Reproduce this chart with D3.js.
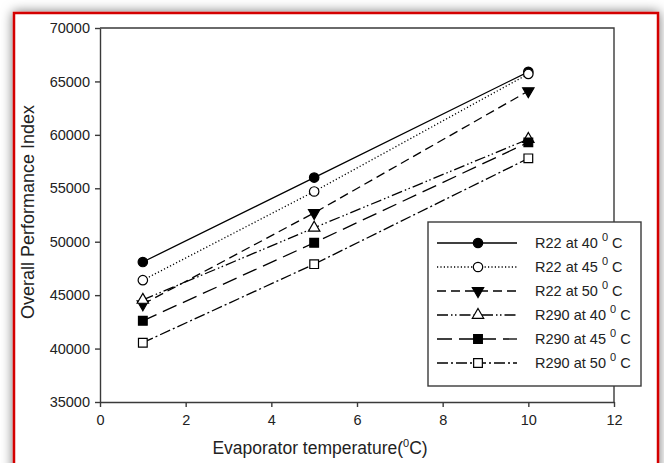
<!DOCTYPE html>
<html>
<head>
<meta charset="utf-8">
<script src="https://cdn.jsdelivr.net/npm/d3@7"></script>
<style>
  html, body { margin: 0; padding: 0; background: #fff; }
  #chart { width: 664px; height: 463px; }
  text { font-family: "Liberation Sans", Arial, sans-serif; }
</style>
</head>
<body>
<div id="chart"></div>
<script>
var temps = [1, 5, 10];
var r22at40 = [48100, 56000, 65900];
var r22at45 = [46400, 54700, 65700];
var r22at50 = [44150, 52700, 64100];
var r290at40 = [44550, 51300, 59600];
var r290at45 = [42600, 49900, 59300];
var r290at50 = [40550, 47900, 57800];
var seriesNames = ["R22 at 40", "R22 at 45", "R22 at 50", "R290 at 40", "R290 at 45", "R290 at 50"];
var xTicks = [0, 2, 4, 6, 8, 10, 12];
var yTicks = [35000, 40000, 45000, 50000, 55000, 60000, 65000, 70000];

function PerformanceChart(element, width, height) {
  var _chart = {};

  var _margins = {top: 28, right: 50, bottom: 61, left: 100},
    _width = width || 664,
    _height = height || 463,
    _svg,
    _bodyG,
    _x, _y,
    _series = [];

  // marker + dash style per series, same order as seriesNames
  var _styles = [
    {dash: null,                 symbol: d3.symbolCircle,   fill: "#000", rotate: 0,   size: 70},
    {dash: "1.2,2.2",            symbol: d3.symbolCircle,   fill: "#fff", rotate: 0,   size: 70},
    {dash: "9,5",                symbol: d3.symbolTriangle, fill: "#000", rotate: 180, size: 56},
    {dash: "11,3,1.5,2.5,1.5,3", symbol: d3.symbolTriangle, fill: "#fff", rotate: 0,   size: 56},
    {dash: "15,7",               symbol: d3.symbolSquare,   fill: "#000", rotate: 0,   size: 76},
    {dash: "11,3,2,3",           symbol: d3.symbolSquare,   fill: "#fff", rotate: 0,   size: 76}
  ];

  _chart.render = function() {
    _svg = d3.select(element).append("svg")
      .attr("width", _width)
      .attr("height", _height);

    renderFrame(_svg);

    _x = d3.scaleLinear().domain([0, 12]).range([xStart(), xEnd()]);
    _y = d3.scaleLinear().domain([35000, 70000]).range([yStart(), yEnd()]);

    renderAxes(_svg);
    renderBody(_svg);
    renderLegend(_svg);
    return _chart;
  };

  _chart.series = function(s) {
    if (!arguments.length) { return _series; }
    _series = s;
    return _chart;
  };

  function renderFrame(svg) {
    var defs = svg.append("defs");
    var f = defs.append("filter").attr("id", "shadow")
      .attr("x", "-10%").attr("y", "-10%").attr("width", "120%").attr("height", "120%");
    f.append("feDropShadow").attr("dx", 0).attr("dy", 0)
      .attr("stdDeviation", 6).attr("flood-color", "#000").attr("flood-opacity", 0.55);

    svg.append("rect")
      .attr("x", 14).attr("y", 13)
      .attr("width", 644).attr("height", 480)
      .attr("fill", "#fff")
      .attr("stroke", "#d40000")
      .attr("stroke-width", 2.5)
      .attr("filter", "url(#shadow)");
  }

  function renderAxes(svg) {
    var axisColor = "#3a3a3a";

    // box top + right
    svg.append("path")
      .attr("d", "M" + xStart() + "," + yEnd() + "H" + xEnd() + "V" + yStart())
      .attr("fill", "none")
      .attr("stroke", axisColor)
      .attr("stroke-width", 1.4);

    var xAxis = d3.axisBottom(_x).tickValues(xTicks).tickSize(5).tickPadding(8).tickSizeOuter(0);
    var yAxis = d3.axisLeft(_y).tickValues(yTicks).tickSize(5).tickPadding(5).tickSizeOuter(0)
      .tickFormat(d3.format("d"));

    var gx = svg.append("g")
      .attr("transform", "translate(0," + yStart() + ")")
      .call(xAxis);
    var gy = svg.append("g")
      .attr("transform", "translate(" + xStart() + ",0)")
      .call(yAxis);

    [gx, gy].forEach(function(g) {
      g.select(".domain").attr("stroke", axisColor).attr("stroke-width", 1.4);
      g.selectAll(".tick line").attr("stroke", axisColor).attr("stroke-width", 1.4);
      g.selectAll(".tick text")
        .attr("fill", "#222")
        .style("font-size", "14.5px")
        .style("font-family", "'Liberation Sans', Arial, sans-serif");
    });

    svg.append("text")
      .attr("transform", "translate(34,212) rotate(-90)")
      .attr("text-anchor", "middle")
      .attr("fill", "#222")
      .style("font-size", "18px")
      .text("Overall Performance Index");

    var xl = svg.append("text")
      .attr("x", 320)
      .attr("y", 454)
      .attr("text-anchor", "middle")
      .attr("fill", "#222")
      .style("font-size", "17.5px");
    xl.append("tspan").text("Evaporator temperature(");
    xl.append("tspan").attr("dy", -7).style("font-size", "11px").text("0");
    xl.append("tspan").attr("dy", 7).text("C)");
  }

  function renderBody(svg) {
    _bodyG = svg.append("g").attr("class", "body");

    var line = d3.line()
      .x(function(d) { return _x(d.x); })
      .y(function(d) { return _y(d.y); });

    _series.forEach(function(s, i) {
      var st = _styles[i];
      var pts = s.values.map(function(v, j) { return {x: temps[j], y: v}; });

      _bodyG.append("path")
        .datum(pts)
        .attr("d", line)
        .attr("fill", "none")
        .attr("stroke", "#000")
        .attr("stroke-width", 1.3)
        .attr("stroke-dasharray", st.dash);

      _bodyG.selectAll(".m" + i)
        .data(pts)
        .enter().append("path")
        .attr("class", "m" + i)
        .attr("d", d3.symbol().type(st.symbol).size(st.size))
        .attr("transform", function(d) {
          return "translate(" + _x(d.x) + "," + _y(d.y) + ") rotate(" + st.rotate + ")";
        })
        .attr("fill", st.fill)
        .attr("stroke", "#000")
        .attr("stroke-width", 1.2);
    });
  }

  function renderLegend(svg) {
    var lg = svg.append("g").attr("class", "legend");
    lg.append("rect")
      .attr("x", 428).attr("y", 222)
      .attr("width", 213).attr("height", 164)
      .attr("fill", "#fff")
      .attr("stroke", "#3a3a3a")
      .attr("stroke-width", 1.4);

    _series.forEach(function(s, i) {
      var st = _styles[i];
      var cy = 243 + i * 24;
      lg.append("line")
        .attr("x1", 437).attr("x2", 517)
        .attr("y1", cy).attr("y2", cy)
        .attr("stroke", "#000")
        .attr("stroke-width", 1.3)
        .attr("stroke-dasharray", st.dash);
      lg.append("path")
        .attr("d", d3.symbol().type(st.symbol).size(st.size))
        .attr("transform", "translate(478," + cy + ") rotate(" + st.rotate + ")")
        .attr("fill", st.fill)
        .attr("stroke", "#000")
        .attr("stroke-width", 1.2);

      var t = lg.append("text")
        .attr("x", 535).attr("y", cy + 5)
        .attr("fill", "#222")
        .style("font-size", "14.5px");
      t.append("tspan").text(s.name + " ");
      t.append("tspan").attr("dy", -7).style("font-size", "11px").text("0");
      t.append("tspan").attr("dy", 7).text(" C");
    });
  }

  function xStart() { return _margins.left; }
  function xEnd() { return _width - _margins.right; }
  function yStart() { return _height - _margins.bottom; }
  function yEnd() { return _margins.top; }

  return _chart;
}

var allValues = [r22at40, r22at45, r22at50, r290at40, r290at45, r290at50];
var chart = PerformanceChart("#chart", 664, 463)
  .series(seriesNames.map(function(n, i) { return {name: n, values: allValues[i]}; }))
  .render();
</script>
</body>
</html>
